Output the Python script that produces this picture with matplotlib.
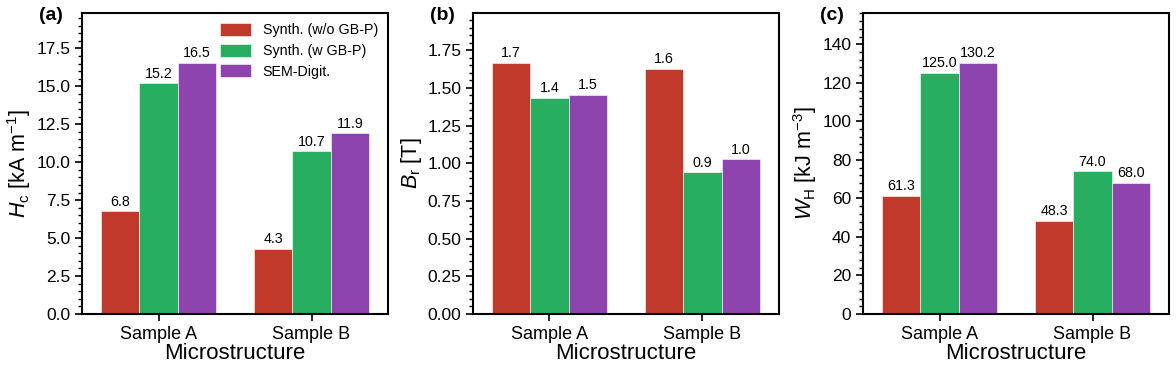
import numpy as np
import matplotlib
matplotlib.use('Agg')
import matplotlib.pyplot as plt
from matplotlib.ticker import AutoMinorLocator

# fonts: Arial-like look
plt.rcParams['font.family'] = ['Liberation Sans', 'DejaVu Sans']
plt.rcParams['mathtext.fontset'] = 'custom'
plt.rcParams['mathtext.rm'] = 'Liberation Sans'
plt.rcParams['mathtext.it'] = 'Liberation Sans:italic'

# data
samples = ['Sample A', 'Sample B']
series = ['Synth. (w/o GB-P)', 'Synth. (w GB-P)', 'SEM-Digit.']
colors = ['#c0392b', '#27ae60', '#8e44ad']

hc = [[6.76, 4.30], [15.20, 10.71], [16.53, 11.90]]
br = [[1.664, 1.625], [1.434, 0.940], [1.456, 1.025]]
wh = [[61.3, 48.3], [125.0, 74.0], [130.2, 68.0]]

panels = ['(a)', '(b)', '(c)']
ylabels = [r'$H_\mathrm{c}$ [kA m$^{-1}$]',
           r'$B_\mathrm{r}$ [T]',
           r'$W_\mathrm{H}$ [kJ m$^{-3}$]']
datasets = [hc, br, wh]

fig = plt.figure(figsize=(11.76, 3.67), dpi=100)
lefts = [82, 473, 863]
x = np.arange(len(samples))
width = 0.25

for k in range(3):
    ax = fig.add_axes([lefts[k] / 1176, 53 / 367, 306 / 1176, 301 / 367])
    data = datasets[k]
    for i in range(len(series)):
        bars = ax.bar(x + (i - 1) * width, data[i], width, color=colors[i],
                      edgecolor='white', linewidth=0.4, label=series[i])
        ax.bar_label(bars, labels=['%.1f' % v for v in data[i]], padding=2, fontsize=10.3)
    ymax = max(max(d) for d in data)
    ax.set_ylim(0, ymax * 1.2)
    ax.set_xlim(-0.5, 1.5)
    ax.set_xticks(x)
    ax.set_xticklabels(samples, fontsize=13)
    ax.yaxis.set_minor_locator(AutoMinorLocator(5))
    ax.tick_params(axis='y', which='major', labelsize=12.5, length=5, width=1.2, direction='out')
    ax.tick_params(axis='y', which='minor', length=3, width=1.0, direction='out')
    ax.tick_params(axis='x', length=5, width=1.2, direction='out')
    for s in ax.spines.values():
        s.set_linewidth(1.5)
    ax.set_xlabel('Microstructure', fontsize=16, labelpad=0)
    ax.set_ylabel(ylabels[k], fontsize=15.5, labelpad=2)
    ax.text(-0.10, 0.993, panels[k], transform=ax.transAxes, fontsize=14,
            fontweight='bold', ha='center', va='center')
    if k == 0:
        ax.legend(loc='upper right', frameon=False, fontsize=10.3,
                  handlelength=2.2, handleheight=1.0, borderaxespad=0.3,
                  labelspacing=0.45)

fig.savefig('out.png', dpi=100)
